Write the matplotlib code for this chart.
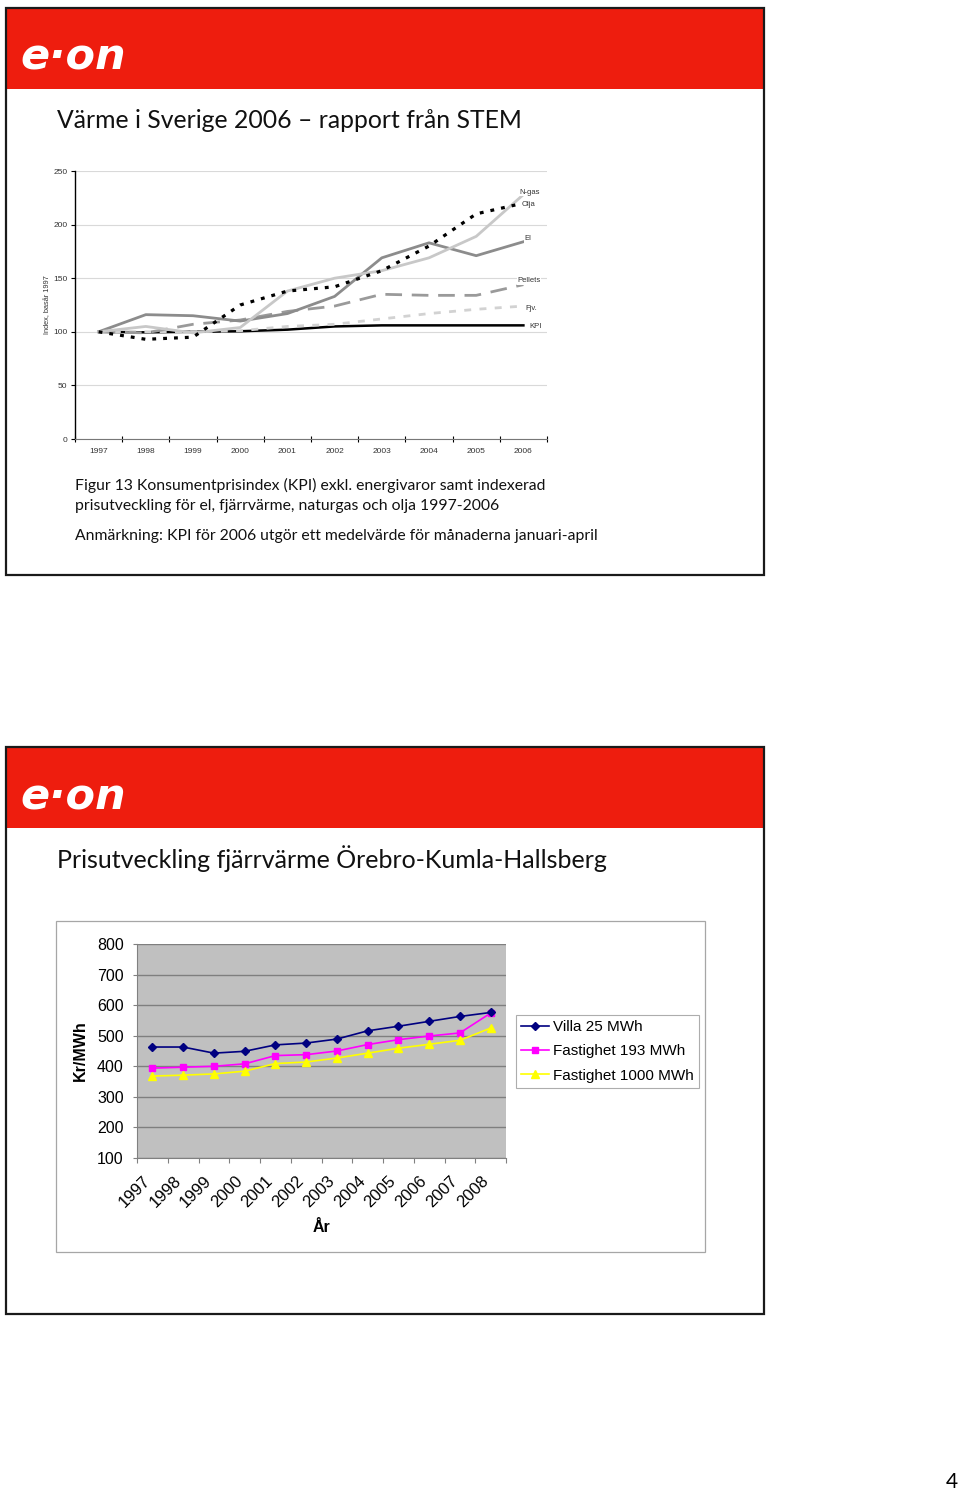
import matplotlib
matplotlib.use('Agg')
import matplotlib.pyplot as plt
from matplotlib.patches import Rectangle
from matplotlib.transforms import ScaledTranslation
import numpy as np

W, H = 960, 1494

# ---- data: top chart (index, basår 1997) ----
years_top = ['1997', '1998', '1999', '2000', '2001', '2002', '2003', '2004', '2005', '2006']
ngas = [100, 105, 99, 104, 138, 150, 157, 169, 189, 228]
olja = [100, 93, 95, 125, 138, 142, 157, 180, 210, 220]
el = [100, 116, 115, 110, 117, 133, 169, 183, 171, 184]
pellets = [100, 99, 107, 111, 119, 124, 135, 134, 134, 144]
fjv = [100, 100, 100, 101, 105, 107, 112, 117, 121, 124]
kpi = [100, 99.5, 100, 100.5, 102, 105, 106, 106, 106, 106]

# ---- data: bottom chart (kr/MWh) ----
years_bot = ['1997', '1998', '1999', '2000', '2001', '2002', '2003', '2004', '2005', '2006', '2007', '2008']
villa = [463, 463, 443, 449, 470, 476, 489, 516, 531, 547, 563, 576]
fast193 = [394, 397, 400, 408, 435, 438, 450, 471, 487, 499, 509, 574]
fast1000 = [368, 371, 375, 384, 409, 414, 427, 443, 459, 472, 485, 525]

RED = '#EE1D0E'
TITLE_FONT = ['Lato', 'DejaVu Sans']
CHART_FONT = ['Liberation Sans', 'DejaVu Sans']

fig = plt.figure(figsize=(W / 100, H / 100), dpi=100)
bg = fig.add_axes([0, 0, 1, 1])
bg.set_xlim(0, W)
bg.set_ylim(H, 0)
bg.axis('off')


def px_axes(x0, y0, x1, y1):
    return fig.add_axes([x0 / W, 1 - y1 / H, (x1 - x0) / W, (y1 - y0) / H])


def slide(top, bottom):
    bg.add_patch(Rectangle((7, top + 1), 757, 80, facecolor=RED, edgecolor='none'))
    bg.add_patch(Rectangle((6, top), 758, bottom - top, facecolor='none',
                           edgecolor='#1a1a1a', linewidth=1.6))
    bg.text(20, top + 62, 'e\u00b7on', color='white', fontsize=31, fontweight='bold',
            style='italic', family='DejaVu Sans', ha='left', va='baseline')


# =========================== slide 1 ===========================
slide(8, 575)
bg.text(57, 120, 'Värme i Sverige 2006 \u2013 rapport från STEM', fontsize=17.8,
        family=TITLE_FONT, ha='left', va='center', color='#111111')
caption = ['Figur 13 Konsumentprisindex (KPI) exkl. energivaror samt indexerad',
           'prisutveckling för el, fjärrvärme, naturgas och olja 1997-2006',
           'Anmärkning: KPI för 2006 utgör ett medelvärde för månaderna januari-april']
for txt, cy in zip(caption, [485, 506, 536]):
    bg.text(75, cy, txt, fontsize=11.3, family=TITLE_FONT, ha='left', va='center',
            color='#111111')

ax1 = px_axes(75, 171, 547, 439)
ax1.set_facecolor('none')
x1 = np.arange(len(years_top))
ax1.plot(x1, kpi, color='black', lw=1.8, zorder=3)
ax1.plot(x1, fjv, color='#d2d2d2', lw=2.0, dashes=(2.5, 3), zorder=3)
ax1.plot(x1, pellets, color='#9a9a9a', lw=2.0, dashes=(6, 3.5), zorder=3)
ax1.plot(x1, el, color='#8c8c8c', lw=2.0, zorder=3)
ax1.plot(x1, ngas, color='#c8c8c8', lw=2.0, zorder=3)
ax1.plot(x1, olja, color='black', lw=2.3, dashes=(1.2, 2.2), zorder=4)
ax1.set_xlim(-0.5, len(years_top) - 0.5)
ax1.set_ylim(0, 250)
ax1.set_yticks(np.arange(0, 251, 50))
ax1.grid(axis='y', color='#d9d9d9', lw=0.8)
ax1.set_axisbelow(True)
ax1.set_xticks(np.arange(-0.5, len(years_top)), labels=[])
ax1.set_xticks(x1, labels=years_top, minor=True)
ax1.tick_params(axis='x', which='major', length=4, width=0.8, direction='inout')
ax1.tick_params(axis='x', which='minor', length=0, pad=6.5, labelsize=6, labelcolor='#333333')
ax1.tick_params(axis='y', length=3, width=0.8, labelsize=6, labelcolor='#333333', pad=2.5)
for lab in ax1.get_xticklabels(minor=True) + ax1.get_yticklabels():
    lab.set_family(CHART_FONT)
for s in ['top', 'right']:
    ax1.spines[s].set_visible(False)
ax1.spines['left'].set_linewidth(1.0)
ax1.spines['bottom'].set_color('#777777')
bg.text(48, 305, 'Index, basår 1997', rotation=90, fontsize=5.3, family=CHART_FONT,
        ha='center', va='center', color='#333333')

# series labels at the right end (drawn on top of the lines)
labels_top = [('N-gas', 530, 192), ('Olja', 528, 205), ('El', 528, 239),
              ('Pellets', 529, 281), ('Fjv.', 531, 309), ('KPI', 536, 327)]
for txt, lx, ly in labels_top:
    ax1.text(lx, ly, txt, fontsize=5.5, family=CHART_FONT, ha='center', va='center',
             color='#333333', transform=bg.transData, clip_on=False, zorder=6,
             bbox=dict(boxstyle='square,pad=0.05', facecolor='white', edgecolor='none'))

# =========================== slide 2 ===========================
slide(747, 1314)
bg.text(57, 859, 'Prisutveckling fjärrvärme Örebro-Kumla-Hallsberg', fontsize=18.0,
        family=TITLE_FONT, ha='left', va='center', color='#111111')
bg.add_patch(Rectangle((56, 921), 649, 331, facecolor='white', edgecolor='#a6a6a6',
                       linewidth=0.9))

ax2 = px_axes(137, 944, 506, 1158)
x2 = np.arange(len(years_bot))
ax2.set_facecolor('#c0c0c0')
ax2.plot(x2, villa, color='#000080', lw=1.2, marker='D', ms=4.5, label='Villa 25 MWh', zorder=4)
ax2.plot(x2, fast193, color='#ff00ff', lw=1.2, marker='s', ms=5, label='Fastighet 193 MWh', zorder=3)
ax2.plot(x2, fast1000, color='#ffff00', lw=1.2, marker='^', ms=5.5, label='Fastighet 1000 MWh', zorder=3)
ax2.set_xlim(-0.5, len(years_bot) - 0.5)
ax2.set_ylim(100, 800)
ax2.set_yticks(np.arange(100, 801, 100))
ax2.grid(axis='y', color='#7f7f7f', lw=1.0)
ax2.set_axisbelow(True)
ax2.set_xticks(np.arange(-0.5, len(years_bot)), labels=[])
ax2.set_xticks(x2, labels=years_bot, minor=True)
ax2.tick_params(axis='x', which='major', length=3.5, width=0.8, color='#808080', direction='out')
ax2.tick_params(axis='x', which='minor', length=0, pad=11, labelsize=12)
ax2.tick_params(axis='y', length=3, width=0.8, color='#808080', labelsize=11.5, pad=6.5)
shift = ScaledTranslation(-10 / 100, 0, fig.dpi_scale_trans)
for lab in ax2.get_xticklabels(minor=True):
    lab.set_rotation(45)
    lab.set_ha('right')
    lab.set_va('top')
    lab.set_rotation_mode('anchor')
    lab.set_transform(lab.get_transform() + shift)
for lab in ax2.get_xticklabels(minor=True) + ax2.get_yticklabels():
    lab.set_family(CHART_FONT)
for s in ['top', 'right']:
    ax2.spines[s].set_visible(False)
ax2.spines['left'].set_color('#808080')
ax2.spines['bottom'].set_color('#808080')
bg.text(80, 1051, 'Kr/MWh', rotation=90, fontsize=11.5, fontweight='bold', family=CHART_FONT,
        ha='center', va='center')
bg.text(322, 1227, 'År', fontsize=11.5, fontweight='bold', family=CHART_FONT,
        ha='center', va='center')

leg = ax2.legend(loc='upper left', bbox_to_anchor=((516 - 137) / (506 - 137), (1158 - 1015) / (1158 - 944)),
                 frameon=True, fancybox=False, prop={'family': CHART_FONT, 'size': 11},
                 handlelength=1.8, borderpad=0.35, labelspacing=0.66, handletextpad=0.25,
                 borderaxespad=0)
leg.get_frame().set_edgecolor('#999999')
leg.get_frame().set_linewidth(0.8)

bg.text(952, 1482, '4', fontsize=15, family=TITLE_FONT, ha='center', va='center')

fig.savefig('out.png', dpi=100)
